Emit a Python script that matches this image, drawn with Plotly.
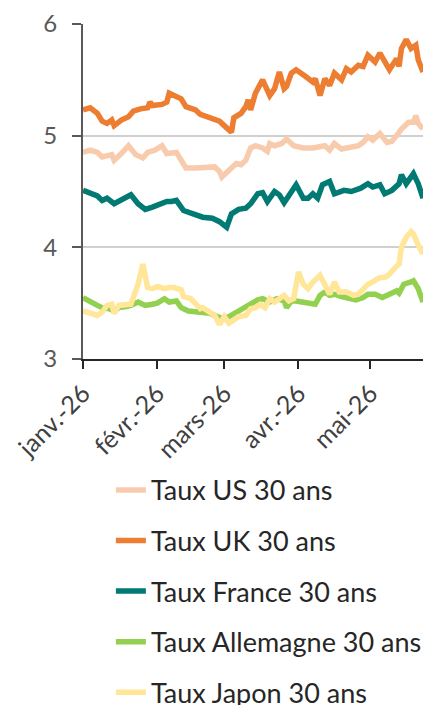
import plotly.graph_objects as go

# ---------------- data ----------------
us_dates = ["2026-01-01","2026-01-04","2026-01-07","2026-01-09","2026-01-13","2026-01-14","2026-01-17",
            "2026-01-20","2026-01-23","2026-01-26","2026-01-28","2026-01-31","2026-02-03","2026-02-05",
            "2026-02-09","2026-02-11","2026-02-13","2026-02-17","2026-02-20","2026-02-25","2026-02-27",
            "2026-02-28","2026-03-03","2026-03-06","2026-03-08","2026-03-10","2026-03-12","2026-03-14",
            "2026-03-17","2026-03-19","2026-03-20","2026-03-22","2026-03-25","2026-03-27","2026-03-30",
            "2026-04-03","2026-04-07","2026-04-09","2026-04-12","2026-04-14","2026-04-16","2026-04-19",
            "2026-04-23","2026-04-26","2026-04-28","2026-04-30","2026-05-02","2026-05-05","2026-05-08",
            "2026-05-10","2026-05-12","2026-05-14","2026-05-17","2026-05-19","2026-05-20","2026-05-21",
            "2026-05-23"]
us_vals = [4.85,4.87,4.85,4.81,4.83,4.78,4.84,
           4.91,4.83,4.80,4.85,4.87,4.91,4.84,
           4.85,4.78,4.71,4.71,4.71,4.72,4.68,
           4.63,4.69,4.75,4.74,4.78,4.89,4.91,
           4.89,4.86,4.93,4.91,4.93,4.97,4.91,
           4.89,4.89,4.90,4.91,4.87,4.93,4.88,
           4.90,4.91,4.94,4.99,4.96,5.02,4.94,
           4.95,5.00,5.06,5.12,5.12,5.18,5.11,
           5.06]

uk_dates = ["2026-01-01","2026-01-04","2026-01-07","2026-01-09","2026-01-11","2026-01-13","2026-01-14",
            "2026-01-17","2026-01-20","2026-01-22","2026-01-25","2026-01-28","2026-01-29","2026-01-30",
            "2026-02-03","2026-02-05","2026-02-06","2026-02-09","2026-02-11","2026-02-13","2026-02-17",
            "2026-02-19","2026-02-22","2026-02-25","2026-02-27","2026-03-01","2026-03-04","2026-03-05",
            "2026-03-08","2026-03-10","2026-03-11","2026-03-12","2026-03-14","2026-03-17","2026-03-20",
            "2026-03-22","2026-03-24","2026-03-26","2026-03-27","2026-03-29","2026-03-31","2026-04-04",
            "2026-04-07","2026-04-08","2026-04-10","2026-04-12","2026-04-14","2026-04-16","2026-04-19",
            "2026-04-21","2026-04-23","2026-04-26","2026-04-28","2026-04-30","2026-05-03","2026-05-05",
            "2026-05-09","2026-05-12","2026-05-13","2026-05-14","2026-05-16","2026-05-18","2026-05-20",
            "2026-05-21","2026-05-23"]
uk_vals = [5.23,5.25,5.20,5.13,5.11,5.14,5.09,
           5.14,5.17,5.22,5.24,5.25,5.30,5.27,
           5.28,5.30,5.38,5.35,5.33,5.26,5.23,
           5.19,5.17,5.14,5.13,5.09,5.03,5.16,
           5.20,5.26,5.32,5.23,5.38,5.50,5.36,
           5.42,5.57,5.42,5.44,5.56,5.59,5.53,
           5.48,5.51,5.36,5.51,5.45,5.56,5.50,
           5.60,5.57,5.63,5.62,5.72,5.66,5.74,
           5.59,5.69,5.62,5.78,5.86,5.78,5.81,
           5.68,5.57]

fr_dates = ["2026-01-01","2026-01-04","2026-01-07","2026-01-09","2026-01-11","2026-01-14","2026-01-17",
            "2026-01-21","2026-01-24","2026-01-27","2026-01-30","2026-02-03","2026-02-05","2026-02-07",
            "2026-02-09","2026-02-12","2026-02-15","2026-02-18","2026-02-20","2026-02-24","2026-02-27",
            "2026-03-02","2026-03-04","2026-03-07","2026-03-10","2026-03-12","2026-03-15","2026-03-17",
            "2026-03-19","2026-03-22","2026-03-24","2026-03-26","2026-03-29","2026-03-31","2026-04-03",
            "2026-04-05","2026-04-07","2026-04-09","2026-04-11","2026-04-14","2026-04-16","2026-04-20",
            "2026-04-23","2026-04-27","2026-04-30","2026-05-02","2026-05-05","2026-05-07","2026-05-10",
            "2026-05-13","2026-05-14","2026-05-16","2026-05-19","2026-05-21","2026-05-23"]
fr_vals = [4.51,4.48,4.46,4.42,4.44,4.39,4.43,
           4.47,4.39,4.34,4.36,4.39,4.41,4.41,
           4.42,4.33,4.31,4.29,4.27,4.26,4.23,
           4.18,4.30,4.34,4.35,4.39,4.48,4.49,
           4.41,4.50,4.47,4.40,4.51,4.56,4.44,
           4.44,4.48,4.44,4.56,4.59,4.48,4.51,
           4.50,4.53,4.57,4.54,4.56,4.48,4.51,
           4.57,4.65,4.57,4.66,4.57,4.44]

de_dates = ["2026-01-01","2026-01-04","2026-01-07","2026-01-09","2026-01-12","2026-01-14","2026-01-16",
            "2026-01-19","2026-01-21","2026-01-24","2026-01-27","2026-01-30","2026-02-01","2026-02-04",
            "2026-02-06","2026-02-09","2026-02-11","2026-02-14","2026-02-17","2026-02-20","2026-02-23",
            "2026-02-26","2026-03-01","2026-03-03","2026-03-06","2026-03-08","2026-03-12","2026-03-15",
            "2026-03-17","2026-03-20","2026-03-23","2026-03-26","2026-03-27","2026-03-29","2026-03-31",
            "2026-04-03","2026-04-06","2026-04-08","2026-04-10","2026-04-12","2026-04-14","2026-04-16",
            "2026-04-19","2026-04-22","2026-04-25","2026-04-28","2026-04-30","2026-05-03","2026-05-06",
            "2026-05-09","2026-05-12","2026-05-13","2026-05-15","2026-05-18","2026-05-19","2026-05-21",
            "2026-05-23"]
de_vals = [3.55,3.51,3.48,3.46,3.45,3.43,3.46,
           3.47,3.48,3.51,3.48,3.49,3.50,3.54,
           3.51,3.52,3.46,3.43,3.42,3.42,3.41,
           3.38,3.36,3.38,3.42,3.44,3.50,3.53,
           3.54,3.51,3.54,3.52,3.46,3.52,3.52,
           3.51,3.49,3.49,3.57,3.60,3.57,3.58,
           3.56,3.54,3.53,3.55,3.58,3.58,3.55,
           3.58,3.61,3.59,3.67,3.69,3.70,3.63,
           3.51]

jp_dates = ["2026-01-01","2026-01-04","2026-01-07","2026-01-09","2026-01-11","2026-01-13","2026-01-14",
            "2026-01-16","2026-01-19","2026-01-21","2026-01-24","2026-01-26","2026-01-28","2026-01-30",
            "2026-02-01","2026-02-04","2026-02-06","2026-02-08","2026-02-11","2026-02-12","2026-02-15",
            "2026-02-17","2026-02-19","2026-02-20","2026-02-22","2026-02-25","2026-02-27","2026-03-01",
            "2026-03-03","2026-03-05","2026-03-07","2026-03-10","2026-03-12","2026-03-14","2026-03-16",
            "2026-03-18","2026-03-20","2026-03-22","2026-03-24","2026-03-26","2026-03-28","2026-03-30",
            "2026-04-01","2026-04-03","2026-04-05","2026-04-07","2026-04-10","2026-04-12","2026-04-14",
            "2026-04-16","2026-04-18","2026-04-21","2026-04-24","2026-04-26","2026-04-28","2026-04-30",
            "2026-05-02","2026-05-05","2026-05-07","2026-05-09","2026-05-11","2026-05-13","2026-05-14",
            "2026-05-16","2026-05-18","2026-05-19","2026-05-21","2026-05-23"]
jp_vals = [3.43,3.41,3.39,3.42,3.48,3.49,3.41,
           3.48,3.49,3.49,3.67,3.85,3.64,3.63,
           3.65,3.63,3.64,3.64,3.62,3.56,3.54,
           3.49,3.45,3.46,3.43,3.39,3.31,3.38,
           3.32,3.35,3.38,3.39,3.45,3.46,3.49,
           3.46,3.54,3.51,3.54,3.57,3.52,3.54,
           3.78,3.67,3.63,3.69,3.75,3.67,3.58,
           3.69,3.60,3.60,3.57,3.58,3.63,3.67,
           3.69,3.73,3.73,3.76,3.81,3.85,4.00,
           4.09,4.14,4.12,4.02,3.94]

series_names = ["Taux US 30 ans", "Taux UK 30 ans", "Taux France 30 ans",
                "Taux Allemagne 30 ans", "Taux Japon 30 ans"]
series_colors = ["#F8CBAD", "#ED7D31", "#007A73", "#92D050", "#FFE699"]

tick_dates = ["2026-01-01", "2026-02-01", "2026-03-01", "2026-04-01", "2026-05-01"]
tick_labels = ["janv.-26", "févr.-26", "mars-26", "avr.-26", "mai-26"]
y_ticks = [3, 4, 5, 6]

# ---------------- figure ----------------
FONT = "Lato"
all_dates = [us_dates, uk_dates, fr_dates, de_dates, jp_dates]
all_vals = [us_vals, uk_vals, fr_vals, de_vals, jp_vals]

fig = go.Figure()
for i, (name, color, xs, ys) in enumerate(zip(series_names, series_colors, all_dates, all_vals)):
    fig.add_trace(go.Scatter(
        x=xs, y=ys, name=name, mode="lines",
        line=dict(color=color, width=5.5),
        legendgroup=f"g{i}",
    ))

# page body has an 8px margin, so the figure is 8px smaller than the window
fig.update_layout(
    width=425, height=697,
    margin=dict(l=75, r=10, t=16, b=346, autoexpand=False),
    paper_bgcolor="white", plot_bgcolor="white",
    font=dict(family=FONT, color="#404040"),
    showlegend=True,
    legend=dict(
        x=0.082, y=-0.319, xanchor="left", yanchor="top",
        orientation="v", tracegroupgap=12.5,
        font=dict(family=FONT, size=27, color="#262626"),
        bgcolor="rgba(0,0,0,0)",
    ),
)

fig.update_xaxes(
    type="date",
    range=["2026-01-01", "2026-05-23"],
    tickmode="array", tickvals=tick_dates, ticktext=tick_labels,
    tickangle=-45,
    tickfont=dict(family=FONT, size=25, color="#404040"),
    showgrid=False, zeroline=False,
    showline=True, linecolor="#262626", linewidth=2,
    ticks="outside", ticklen=8, tickwidth=2, tickcolor="#262626",
)

fig.update_yaxes(
    range=[3, 6],
    tickmode="array", tickvals=y_ticks, ticktext=[str(v) for v in y_ticks],
    tickfont=dict(family=FONT, size=24, color="#595959"),
    ticklabeloverflow="allow",
    showgrid=True, gridcolor="#D0D0D0", gridwidth=1.5,
    zeroline=False,
    showline=True, linecolor="#595959", linewidth=2,
    ticks="outside", ticklen=9, tickwidth=2, tickcolor="#595959",
    ticklabelstandoff=10,
)

fig.write_html("out.html")
